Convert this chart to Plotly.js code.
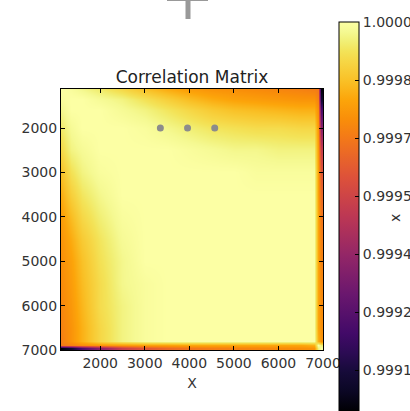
<!DOCTYPE html>
<html>
<head>
<meta charset="utf-8">
<script src="https://cdn.plot.ly/plotly-3.0.1.min.js"></script>
<style>
  html, body { margin: 0; padding: 0; background: #fff; }
  #chart { width: 410px; height: 411px; }
</style>
</head>
<body>
<div id="chart"></div>
<script>
// Sample positions (same on both axes)
const positions = [1120, 1350, 1600, 2000, 2500, 3000, 3500, 4000, 4500, 5000, 5500, 6000, 6500, 6800, 6880, 6960];

// Upper triangle of the correlation matrix: row k lists corr(positions[k], positions[k..end])
const corrUpper = [
  [1.0, 0.99999, 0.99997, 0.99994, 0.99990, 0.99985, 0.99981, 0.99978, 0.99976, 0.99975, 0.99974, 0.99973, 0.99972, 0.99971, 0.99970, 0.99900],
  [1.0, 1.0, 0.99998, 0.99996, 0.99992, 0.99988, 0.99984, 0.99981, 0.99979, 0.99978, 0.99977, 0.99976, 0.99976, 0.99972, 0.99907],
  [1.0, 1.0, 0.99998, 0.99996, 0.99993, 0.99990, 0.99987, 0.99985, 0.99984, 0.99983, 0.99982, 0.99982, 0.99975, 0.99922],
  [1.0, 1.0, 0.99999, 0.99997, 0.99995, 0.99993, 0.99992, 0.99991, 0.99991, 0.99990, 0.99990, 0.99977, 0.99937],
  [1.0, 1.0, 1.0, 0.99999, 0.99998, 0.99997, 0.99997, 0.99996, 0.99996, 0.99996, 0.99978, 0.99953],
  [1.0, 1.0, 1.0, 1.0, 1.0, 0.99999, 0.99999, 0.99999, 0.99999, 0.99979, 0.99961],
  [1.0, 1.0, 1.0, 1.0, 1.0, 1.0, 1.0, 1.0, 0.99979, 0.99966],
  [1.0, 1.0, 1.0, 1.0, 1.0, 1.0, 1.0, 0.99980, 0.99969],
  [1.0, 1.0, 1.0, 1.0, 1.0, 1.0, 0.99980, 0.99971],
  [1.0, 1.0, 1.0, 1.0, 1.0, 0.99980, 0.99972],
  [1.0, 1.0, 1.0, 1.0, 0.99980, 0.99973],
  [1.0, 1.0, 1.0, 0.99980, 0.99974],
  [1.0, 1.0, 0.99980, 0.99975],
  [1.0, 0.99982, 0.99976],
  [1.0, 0.99995],
  [1.0]
];

// Marker points drawn over the matrix
const dotX = [3350, 3960, 4570];
const dotY = [2000, 2000, 2000];

// Axis and colorbar ticks
const axisTicks = [2000, 3000, 4000, 5000, 6000, 7000];
const cbTickVals = [1.0, 0.99985, 0.9997, 0.99955, 0.9994, 0.99925, 0.9991];
const cbTickText = ['1.0000', '0.9998', '0.9997', '0.9995', '0.9994', '0.9992', '0.9991'];

// Full symmetric matrix from the upper triangle
const n = positions.length;
const corr = [];
for (let i = 0; i < n; i++) {
  corr.push(new Array(n));
}
for (let i = 0; i < n; i++) {
  for (let k = 0; k < corrUpper[i].length; k++) {
    const j = i + k;
    corr[i][j] = corrUpper[i][k];
    corr[j][i] = corrUpper[i][k];
  }
}

// Inferno colour map
const inferno = [
  [0.00, '#000004'], [0.05, '#0b0724'], [0.10, '#160b39'], [0.15, '#2c0b54'],
  [0.20, '#420a68'], [0.30, '#6a176e'], [0.40, '#932667'], [0.50, '#bc3754'],
  [0.60, '#dd513a'], [0.65, '#e8642a'], [0.70, '#f37819'], [0.75, '#f98e09'],
  [0.80, '#fca50a'], [0.85, '#f9c127'], [0.90, '#f6d746'], [0.925, '#f3e358'],
  [0.95, '#f1ef75'], [0.975, '#f5f992'], [1.00, '#fcffa4']
];

const W = 410, H = 411;
const plotL = 61, plotR = 323, plotT = 89, plotB = 350;
const px2paperX = p => (p - plotL) / (plotR - plotL);
const px2paperY = p => 1 + (plotT - p) / (plotB - plotT);

const heat = {
  type: 'heatmap',
  x: positions,
  y: positions,
  z: corr,
  zmin: 0.998994,
  zmax: 1.0,
  zsmooth: 'best',
  colorscale: inferno,
  hoverinfo: 'skip',
  colorbar: {
    thickness: 20, thicknessmode: 'pixels',
    len: 389, lenmode: 'pixels',
    x: px2paperX(339), xanchor: 'left',
    y: px2paperY(411), yanchor: 'bottom',
    xpad: 0, ypad: 0,
    outlinewidth: 1, outlinecolor: '#000',
    tickvals: cbTickVals, ticktext: cbTickText,
    tickprefix: '\u2009',
    ticks: 'inside', ticklen: 4, tickcolor: '#000',
    tickfont: { family: 'DejaVu Sans', size: 14, color: '#333' }
  }
};

const dots = {
  type: 'scatter', mode: 'markers',
  x: dotX, y: dotY,
  marker: { size: 7, color: '#8c8c8c' },
  hoverinfo: 'skip', showlegend: false
};

const axisCommon = {
  tickvals: axisTicks,
  ticks: 'inside', ticklen: 4, tickcolor: '#000', tickwidth: 1,
  showline: true, linecolor: '#000', linewidth: 1, mirror: 'ticks',
  showgrid: false, zeroline: false,
  tickfont: { family: 'DejaVu Sans', size: 14, color: '#333' }
};

const layout = {
  width: W, height: H,
  margin: { l: plotL, r: W - plotR, t: plotT, b: H - plotB, autoexpand: false },
  paper_bgcolor: '#fff', plot_bgcolor: '#fff',
  font: { family: 'DejaVu Sans', color: '#333' },
  showlegend: false,
  title: {
    text: 'Correlation Matrix',
    font: { family: 'DejaVu Sans', size: 17, color: '#222' },
    xref: 'paper', x: 0.5, xanchor: 'center',
    yref: 'container', y: 1 - 77 / H, yanchor: 'middle'
  },
  xaxis: Object.assign({}, axisCommon, {
    range: [1120, 7000],
    title: { text: 'X', font: { family: 'DejaVu Sans', size: 14, color: '#333' }, standoff: 8 }
  }),
  yaxis: Object.assign({}, axisCommon, {
    range: [7000, 1120]
  }),
  annotations: [{
    text: 'x', textangle: -90, showarrow: false,
    xref: 'paper', yref: 'paper',
    x: px2paperX(395), y: px2paperY(218),
    xanchor: 'center', yanchor: 'middle',
    font: { family: 'DejaVu Sans', size: 14, color: '#333' }
  }],
  shapes: [
    { type: 'line', xref: 'paper', yref: 'paper',
      x0: px2paperX(167), x1: px2paperX(208), y0: px2paperY(-1.5), y1: px2paperY(-1.5),
      line: { color: '#999', width: 5 } },
    { type: 'line', xref: 'paper', yref: 'paper',
      x0: px2paperX(188), x1: px2paperX(188), y0: px2paperY(-22), y1: px2paperY(19),
      line: { color: '#999', width: 5 } }
  ]
};

Plotly.newPlot('chart', [heat, dots], layout, { staticPlot: true, displayModeBar: false });
</script>
</body>
</html>
